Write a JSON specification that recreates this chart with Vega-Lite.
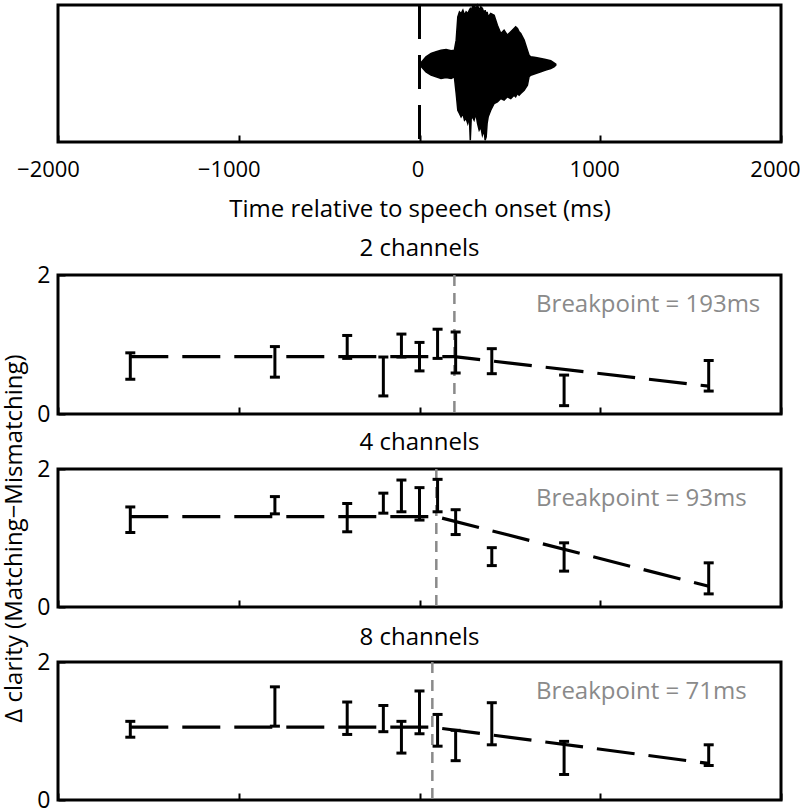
{
  "$schema": "https://vega.github.io/schema/vega-lite/v6.json",
  "padding": {"left": 0, "top": 0, "right": 0, "bottom": 0},
  "background": "white",
  "datasets": {
    "wave": [
      {"t": 8, "hi": 0.029, "lo": -0.027},
      {"t": 36, "hi": 0.130, "lo": -0.122},
      {"t": 64, "hi": 0.186, "lo": -0.178},
      {"t": 92, "hi": 0.214, "lo": -0.206},
      {"t": 119, "hi": 0.242, "lo": -0.234},
      {"t": 147, "hi": 0.253, "lo": -0.217},
      {"t": 175, "hi": 0.231, "lo": -0.234},
      {"t": 193, "hi": 0.242, "lo": -0.206},
      {"t": 203, "hi": 0.410, "lo": -0.486},
      {"t": 212, "hi": 0.801, "lo": -0.766},
      {"t": 221, "hi": 0.885, "lo": -0.822},
      {"t": 230, "hi": 0.857, "lo": -0.877},
      {"t": 240, "hi": 0.913, "lo": -0.822},
      {"t": 249, "hi": 0.829, "lo": -0.933},
      {"t": 258, "hi": 0.885, "lo": -0.905},
      {"t": 267, "hi": 0.857, "lo": -0.989},
      {"t": 276, "hi": 0.913, "lo": -0.877},
      {"t": 281, "hi": 0.941, "lo": -1.269},
      {"t": 286, "hi": 0.913, "lo": -0.905},
      {"t": 293, "hi": 0.969, "lo": -0.877},
      {"t": 302, "hi": 0.997, "lo": -0.933},
      {"t": 312, "hi": 0.941, "lo": -0.822},
      {"t": 321, "hi": 0.997, "lo": -0.989},
      {"t": 330, "hi": 0.913, "lo": -1.101},
      {"t": 339, "hi": 0.969, "lo": -1.045},
      {"t": 348, "hi": 0.941, "lo": -1.185},
      {"t": 358, "hi": 0.857, "lo": -1.101},
      {"t": 363, "hi": 0.913, "lo": -1.269},
      {"t": 369, "hi": 0.829, "lo": -1.213},
      {"t": 374, "hi": 0.885, "lo": -0.989},
      {"t": 380, "hi": 0.801, "lo": -0.877},
      {"t": 394, "hi": 0.857, "lo": -0.766},
      {"t": 413, "hi": 0.829, "lo": -0.654},
      {"t": 431, "hi": 0.661, "lo": -0.626},
      {"t": 450, "hi": 0.522, "lo": -0.570},
      {"t": 468, "hi": 0.577, "lo": -0.598},
      {"t": 486, "hi": 0.494, "lo": -0.542},
      {"t": 505, "hi": 0.550, "lo": -0.570},
      {"t": 523, "hi": 0.605, "lo": -0.514},
      {"t": 532, "hi": 0.633, "lo": -0.542},
      {"t": 542, "hi": 0.605, "lo": -0.486},
      {"t": 551, "hi": 0.550, "lo": -0.514},
      {"t": 560, "hi": 0.522, "lo": -0.486},
      {"t": 579, "hi": 0.410, "lo": -0.430},
      {"t": 597, "hi": 0.242, "lo": -0.346},
      {"t": 606, "hi": 0.158, "lo": -0.206},
      {"t": 615, "hi": 0.130, "lo": -0.178},
      {"t": 643, "hi": 0.119, "lo": -0.150},
      {"t": 671, "hi": 0.102, "lo": -0.122},
      {"t": 698, "hi": 0.085, "lo": -0.094},
      {"t": 726, "hi": 0.063, "lo": -0.066},
      {"t": 744, "hi": 0.029, "lo": -0.038},
      {"t": 754, "hi": 0.007, "lo": -0.010}
    ],
    "err": [
      {"panel": "2", "t": -1600, "lo": 0.50, "hi": 0.88},
      {"panel": "2", "t": -800, "lo": 0.53, "hi": 0.97},
      {"panel": "2", "t": -400, "lo": 0.80, "hi": 1.13},
      {"panel": "2", "t": -200, "lo": 0.26, "hi": 0.82},
      {"panel": "2", "t": -100, "lo": 0.82, "hi": 1.15},
      {"panel": "2", "t": 0, "lo": 0.62, "hi": 1.03},
      {"panel": "2", "t": 100, "lo": 0.80, "hi": 1.22},
      {"panel": "2", "t": 200, "lo": 0.59, "hi": 1.18},
      {"panel": "2", "t": 400, "lo": 0.58, "hi": 0.94},
      {"panel": "2", "t": 800, "lo": 0.12, "hi": 0.56},
      {"panel": "2", "t": 1600, "lo": 0.33, "hi": 0.77},
      {"panel": "4", "t": -1600, "lo": 1.08, "hi": 1.45},
      {"panel": "4", "t": -800, "lo": 1.35, "hi": 1.60},
      {"panel": "4", "t": -400, "lo": 1.09, "hi": 1.50},
      {"panel": "4", "t": -200, "lo": 1.36, "hi": 1.65},
      {"panel": "4", "t": -100, "lo": 1.38, "hi": 1.84},
      {"panel": "4", "t": 0, "lo": 1.26, "hi": 1.73},
      {"panel": "4", "t": 100, "lo": 1.38, "hi": 1.85},
      {"panel": "4", "t": 200, "lo": 1.05, "hi": 1.41},
      {"panel": "4", "t": 400, "lo": 0.60, "hi": 0.86},
      {"panel": "4", "t": 800, "lo": 0.52, "hi": 0.93},
      {"panel": "4", "t": 1600, "lo": 0.19, "hi": 0.64},
      {"panel": "8", "t": -1600, "lo": 0.91, "hi": 1.14},
      {"panel": "8", "t": -800, "lo": 1.07, "hi": 1.64},
      {"panel": "8", "t": -400, "lo": 0.95, "hi": 1.42},
      {"panel": "8", "t": -200, "lo": 0.99, "hi": 1.37},
      {"panel": "8", "t": -100, "lo": 0.68, "hi": 1.14},
      {"panel": "8", "t": 0, "lo": 0.96, "hi": 1.58},
      {"panel": "8", "t": 100, "lo": 0.78, "hi": 1.24},
      {"panel": "8", "t": 200, "lo": 0.57, "hi": 1.01},
      {"panel": "8", "t": 400, "lo": 0.80, "hi": 1.41},
      {"panel": "8", "t": 800, "lo": 0.37, "hi": 0.85},
      {"panel": "8", "t": 1600, "lo": 0.50, "hi": 0.80}
    ],
    "fit": [
      {"panel": "2", "t": -1600, "y": 0.825},
      {"panel": "2", "t": 193, "y": 0.825},
      {"panel": "2", "t": 1600, "y": 0.40},
      {"panel": "4", "t": -1600, "y": 1.31},
      {"panel": "4", "t": 93, "y": 1.31},
      {"panel": "4", "t": 1600, "y": 0.30},
      {"panel": "8", "t": -1600, "y": 1.055},
      {"panel": "8", "t": 71, "y": 1.055},
      {"panel": "8", "t": 1600, "y": 0.53}
    ],
    "bp": [
      {"panel": "2", "t": 193, "label": "Breakpoint = 193ms"},
      {"panel": "4", "t": 93, "label": "Breakpoint = 93ms"},
      {"panel": "8", "t": 71, "label": "Breakpoint = 71ms"}
    ],
    "onset": [{"t": 0}]
  },
  "bounds": "flush",
  "spacing": 133,
  "vconcat": [
    {
      "width": 723,
      "height": 137,
      "layer": [
        {
          "data": {"name": "wave"},
          "mark": {"type": "area", "color": "black", "stroke": "black", "strokeWidth": 1.5},
          "encoding": {
            "x": {"field": "t", "type": "quantitative",
              "scale": {"domain": [-2000, 2000], "nice": false, "zero": false},
              "axis": {"values": [-2000, -1000, 0, 1000, 2000], "format": "d", "labelPadding": 41, "labelBaseline": "alphabetic", "labelFontSize": 22,
                "labelOffset": {"condition": [{"test": "datum.value < 0", "value": -10}, {"test": "datum.value > 0", "value": -6}], "value": -2},
                "title": "Time relative to speech onset (ms)", "titleY": 74, "titleBaseline": "alphabetic"}},
            "y": {"field": "lo", "type": "quantitative", "scale": {"domain": [-1.3, 1], "nice": false, "zero": false}, "axis": null},
            "y2": {"field": "hi"}
          }
        },
        {
          "data": {"name": "onset"},
          "mark": {"type": "rule", "color": "black", "strokeWidth": 3, "strokeDash": [34, 16]},
          "encoding": {"x": {"field": "t", "type": "quantitative"}}
        }
      ]
    },
    {
      "bounds": "flush",
      "spacing": 55,
      "vconcat": [
        {
          "title": {"text": "2 channels", "offset": 3},
          "width": 723,
          "height": 139,
          "layer": [
            {"data": {"name": "bp"}, "transform": [{"filter": "datum.panel === '2'"}],
              "mark": {"type": "rule", "color": "#8a8a8a", "strokeWidth": 2.5, "strokeDash": [11, 7]},
              "encoding": {"x": {"field": "t", "type": "quantitative", "scale": {"domain": [-2000, 2000], "nice": false, "zero": false},
                "axis": {"values": [-2000, -1000, 0, 1000, 2000], "labels": false, "title": null}}}},
            {"data": {"name": "bp"}, "transform": [{"filter": "datum.panel === '2'"}],
              "mark": {"type": "text", "color": "#8a8a8a", "fontSize": 24, "align": "left", "baseline": "middle"},
              "encoding": {"x": {"datum": 645, "type": "quantitative"}, "y": {"datum": 1.57, "type": "quantitative"}, "text": {"field": "label"}}},
            {"data": {"name": "fit"}, "transform": [{"filter": "datum.panel === '2'"}],
              "mark": {"type": "line", "color": "black", "strokeWidth": 3.2, "strokeDash": [38, 14]},
              "encoding": {"x": {"field": "t", "type": "quantitative"},
                "y": {"field": "y", "type": "quantitative", "scale": {"domain": [0, 2], "nice": false, "zero": false},
                  "axis": {"values": [0, 1, 2], "format": "d", "labelPadding": 15, "title": null}}}},
            {"data": {"name": "err"}, "transform": [{"filter": "datum.panel === '2'"}],
              "mark": {"type": "rule", "color": "black", "strokeWidth": 3},
              "encoding": {"x": {"field": "t", "type": "quantitative"}, "y": {"field": "lo", "type": "quantitative"}, "y2": {"field": "hi"}}},
            {"data": {"name": "err"}, "transform": [{"filter": "datum.panel === '2'"}],
              "mark": {"type": "tick", "color": "black", "orient": "horizontal", "size": 10, "thickness": 3, "opacity": 1},
              "encoding": {"x": {"field": "t", "type": "quantitative"}, "y": {"field": "lo", "type": "quantitative"}}},
            {"data": {"name": "err"}, "transform": [{"filter": "datum.panel === '2'"}],
              "mark": {"type": "tick", "color": "black", "orient": "horizontal", "size": 10, "thickness": 3, "opacity": 1},
              "encoding": {"x": {"field": "t", "type": "quantitative"}, "y": {"field": "hi", "type": "quantitative"}}}
          ]
        },
        {
          "title": {"text": "4 channels", "offset": -101},
          "width": 723,
          "height": 138,
          "layer": [
            {"data": {"name": "bp"}, "transform": [{"filter": "datum.panel === '4'"}],
              "mark": {"type": "rule", "color": "#8a8a8a", "strokeWidth": 2.5, "strokeDash": [11, 7]},
              "encoding": {"x": {"field": "t", "type": "quantitative", "scale": {"domain": [-2000, 2000], "nice": false, "zero": false},
                "axis": {"values": [-2000, -1000, 0, 1000, 2000], "labels": false, "title": null}}}},
            {"data": {"name": "bp"}, "transform": [{"filter": "datum.panel === '4'"}],
              "mark": {"type": "text", "color": "#8a8a8a", "fontSize": 24, "align": "left", "baseline": "middle"},
              "encoding": {"x": {"datum": 645, "type": "quantitative"}, "y": {"datum": 1.57, "type": "quantitative"}, "text": {"field": "label"}}},
            {"data": {"name": "fit"}, "transform": [{"filter": "datum.panel === '4'"}],
              "mark": {"type": "line", "color": "black", "strokeWidth": 3.2, "strokeDash": [38, 14]},
              "encoding": {"x": {"field": "t", "type": "quantitative"},
                "y": {"field": "y", "type": "quantitative", "scale": {"domain": [0, 2], "nice": false, "zero": false},
                  "axis": {"values": [0, 1, 2], "format": "d", "labelPadding": 15, "title": "Δ clarity (Matching−Mismatching)",
                    "titleX": -37, "titleY": 69, "titleAngle": -90, "titleBaseline": "alphabetic", "titleAlign": "center"}}}},
            {"data": {"name": "err"}, "transform": [{"filter": "datum.panel === '4'"}],
              "mark": {"type": "rule", "color": "black", "strokeWidth": 3},
              "encoding": {"x": {"field": "t", "type": "quantitative"}, "y": {"field": "lo", "type": "quantitative"}, "y2": {"field": "hi"}}},
            {"data": {"name": "err"}, "transform": [{"filter": "datum.panel === '4'"}],
              "mark": {"type": "tick", "color": "black", "orient": "horizontal", "size": 10, "thickness": 3, "opacity": 1},
              "encoding": {"x": {"field": "t", "type": "quantitative"}, "y": {"field": "lo", "type": "quantitative"}}},
            {"data": {"name": "err"}, "transform": [{"filter": "datum.panel === '4'"}],
              "mark": {"type": "tick", "color": "black", "orient": "horizontal", "size": 10, "thickness": 3, "opacity": 1},
              "encoding": {"x": {"field": "t", "type": "quantitative"}, "y": {"field": "hi", "type": "quantitative"}}}
          ]
        },
        {
          "title": {"text": "8 channels", "offset": 1},
          "width": 723,
          "height": 138,
          "layer": [
            {"data": {"name": "bp"}, "transform": [{"filter": "datum.panel === '8'"}],
              "mark": {"type": "rule", "color": "#8a8a8a", "strokeWidth": 2.5, "strokeDash": [11, 7]},
              "encoding": {"x": {"field": "t", "type": "quantitative", "scale": {"domain": [-2000, 2000], "nice": false, "zero": false},
                "axis": {"values": [-2000, -1000, 0, 1000, 2000], "labels": false, "title": null}}}},
            {"data": {"name": "bp"}, "transform": [{"filter": "datum.panel === '8'"}],
              "mark": {"type": "text", "color": "#8a8a8a", "fontSize": 24, "align": "left", "baseline": "middle"},
              "encoding": {"x": {"datum": 645, "type": "quantitative"}, "y": {"datum": 1.57, "type": "quantitative"}, "text": {"field": "label"}}},
            {"data": {"name": "fit"}, "transform": [{"filter": "datum.panel === '8'"}],
              "mark": {"type": "line", "color": "black", "strokeWidth": 3.2, "strokeDash": [38, 14]},
              "encoding": {"x": {"field": "t", "type": "quantitative"},
                "y": {"field": "y", "type": "quantitative", "scale": {"domain": [0, 2], "nice": false, "zero": false},
                  "axis": {"values": [0, 1, 2], "format": "d", "labelPadding": 15, "title": null}}}},
            {"data": {"name": "err"}, "transform": [{"filter": "datum.panel === '8'"}],
              "mark": {"type": "rule", "color": "black", "strokeWidth": 3},
              "encoding": {"x": {"field": "t", "type": "quantitative"}, "y": {"field": "lo", "type": "quantitative"}, "y2": {"field": "hi"}}},
            {"data": {"name": "err"}, "transform": [{"filter": "datum.panel === '8'"}],
              "mark": {"type": "tick", "color": "black", "orient": "horizontal", "size": 10, "thickness": 3, "opacity": 1},
              "encoding": {"x": {"field": "t", "type": "quantitative"}, "y": {"field": "lo", "type": "quantitative"}}},
            {"data": {"name": "err"}, "transform": [{"filter": "datum.panel === '8'"}],
              "mark": {"type": "tick", "color": "black", "orient": "horizontal", "size": 10, "thickness": 3, "opacity": 1},
              "encoding": {"x": {"field": "t", "type": "quantitative"}, "y": {"field": "hi", "type": "quantitative"}}}
          ]
        }
      ]
    }
  ],
  "config": {
    "font": "Open Sans",
    "view": {"stroke": "black", "strokeWidth": 3},
    "axis": {
      "grid": false, "domain": false,
      "labelFont": "Open Sans", "labelFontSize": 23, "labelColor": "black", "labelFlush": false,
      "tickColor": "black", "tickWidth": 2, "tickSize": -7,
      "titleFont": "Open Sans", "titleFontSize": 24, "titleFontWeight": "normal", "titleColor": "black"
    },
    "title": {"font": "Open Sans", "fontSize": 24, "fontWeight": "normal", "color": "black", "baseline": "alphabetic", "anchor": "middle", "frame": "group"},
    "text": {"font": "Open Sans"}
  }
}
